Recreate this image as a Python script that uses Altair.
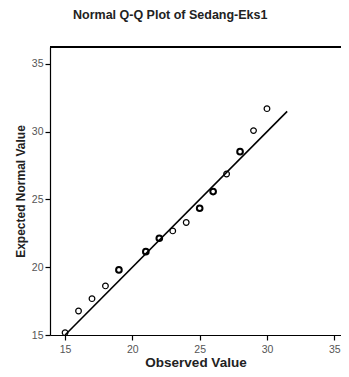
import altair as alt
import pandas as pd

# Observed values (x) and expected normal values (y)
observed = [15, 16, 17, 18, 19, 21, 22, 23, 24, 25, 26, 27, 28, 29, 30]
expected = [15.17, 16.77, 17.68, 18.62, 19.80, 21.15, 22.14, 22.68, 23.30,
            24.35, 25.58, 26.88, 28.53, 30.08, 31.70]
freq = [1, 1, 1, 1, 2, 2, 2, 1, 1, 2, 2, 1, 2, 1, 1]

line_x = [15, 31.5]
line_y = [15, 31.5]

ticks = [15, 20, 25, 30, 35]
x_domain = [13.88, 35.5]
y_domain = [15, 36.25]

pts = pd.DataFrame({"obs": observed, "exp": expected, "n": freq})
ref = pd.DataFrame({"obs": line_x, "exp": line_y})

FONT = "Liberation Sans"

xscale = alt.Scale(domain=x_domain, nice=False, zero=False)
yscale = alt.Scale(domain=y_domain, nice=False, zero=False)

xaxis = alt.Axis(title="Observed Value", values=ticks, grid=False,
                 domainColor="black", domainWidth=1.2, tickColor="black",
                 tickSize=5, tickWidth=1.2, labelFontSize=10.5, labelColor="#555555",
                 labelFont=FONT, labelPadding=4, titleFont=FONT, titleFontSize=13.5,
                 titleFontWeight="bold", titleColor="#222222", titlePadding=1)
yaxis = alt.Axis(title="Expected Normal Value", values=ticks, grid=False,
                 domainColor="black", domainWidth=1.2, tickColor="black",
                 tickSize=5, tickWidth=1.2, labelFontSize=10.5, labelColor="#555555",
                 labelFont=FONT, labelPadding=2, titleFont=FONT, titleFontSize=12,
                 titleFontWeight="bold", titleColor="#222222", titlePadding=4)

line = alt.Chart(ref).mark_line(color="black", strokeWidth=1.6).encode(
    x=alt.X("obs:Q", scale=xscale, axis=xaxis),
    y=alt.Y("exp:Q", scale=yscale, axis=yaxis),
)

points = alt.Chart(pts).mark_point(shape="circle", filled=False, color="black",
                                   size=32, opacity=1).encode(
    x=alt.X("obs:Q", scale=xscale),
    y=alt.Y("exp:Q", scale=yscale),
    strokeWidth=alt.StrokeWidth("n:Q", scale=alt.Scale(domain=[1, 2], range=[1.2, 2.0]),
                                legend=None),
)

top = alt.Chart(pts).mark_rule(color="black", strokeWidth=1.2).encode(
    x=alt.value(0), x2=alt.value(291), y=alt.value(0)
)

chart = alt.layer(top, line, points).properties(
    width=291, height=288,
    autosize=alt.AutoSizeParams(type="none"),
    padding={"left": 42, "top": 39, "right": 0, "bottom": 34},
    title=alt.TitleParams("Normal Q-Q Plot of Sedang-Eks1", anchor="start", frame="group",
                          dx=23, offset=25, font=FONT, fontSize=12.5, fontWeight="bold",
                          color="#222222"),
).configure_view(stroke=None).configure(background="white")

chart.save("out.html", embed_options={"renderer": "svg", "actions": False})
